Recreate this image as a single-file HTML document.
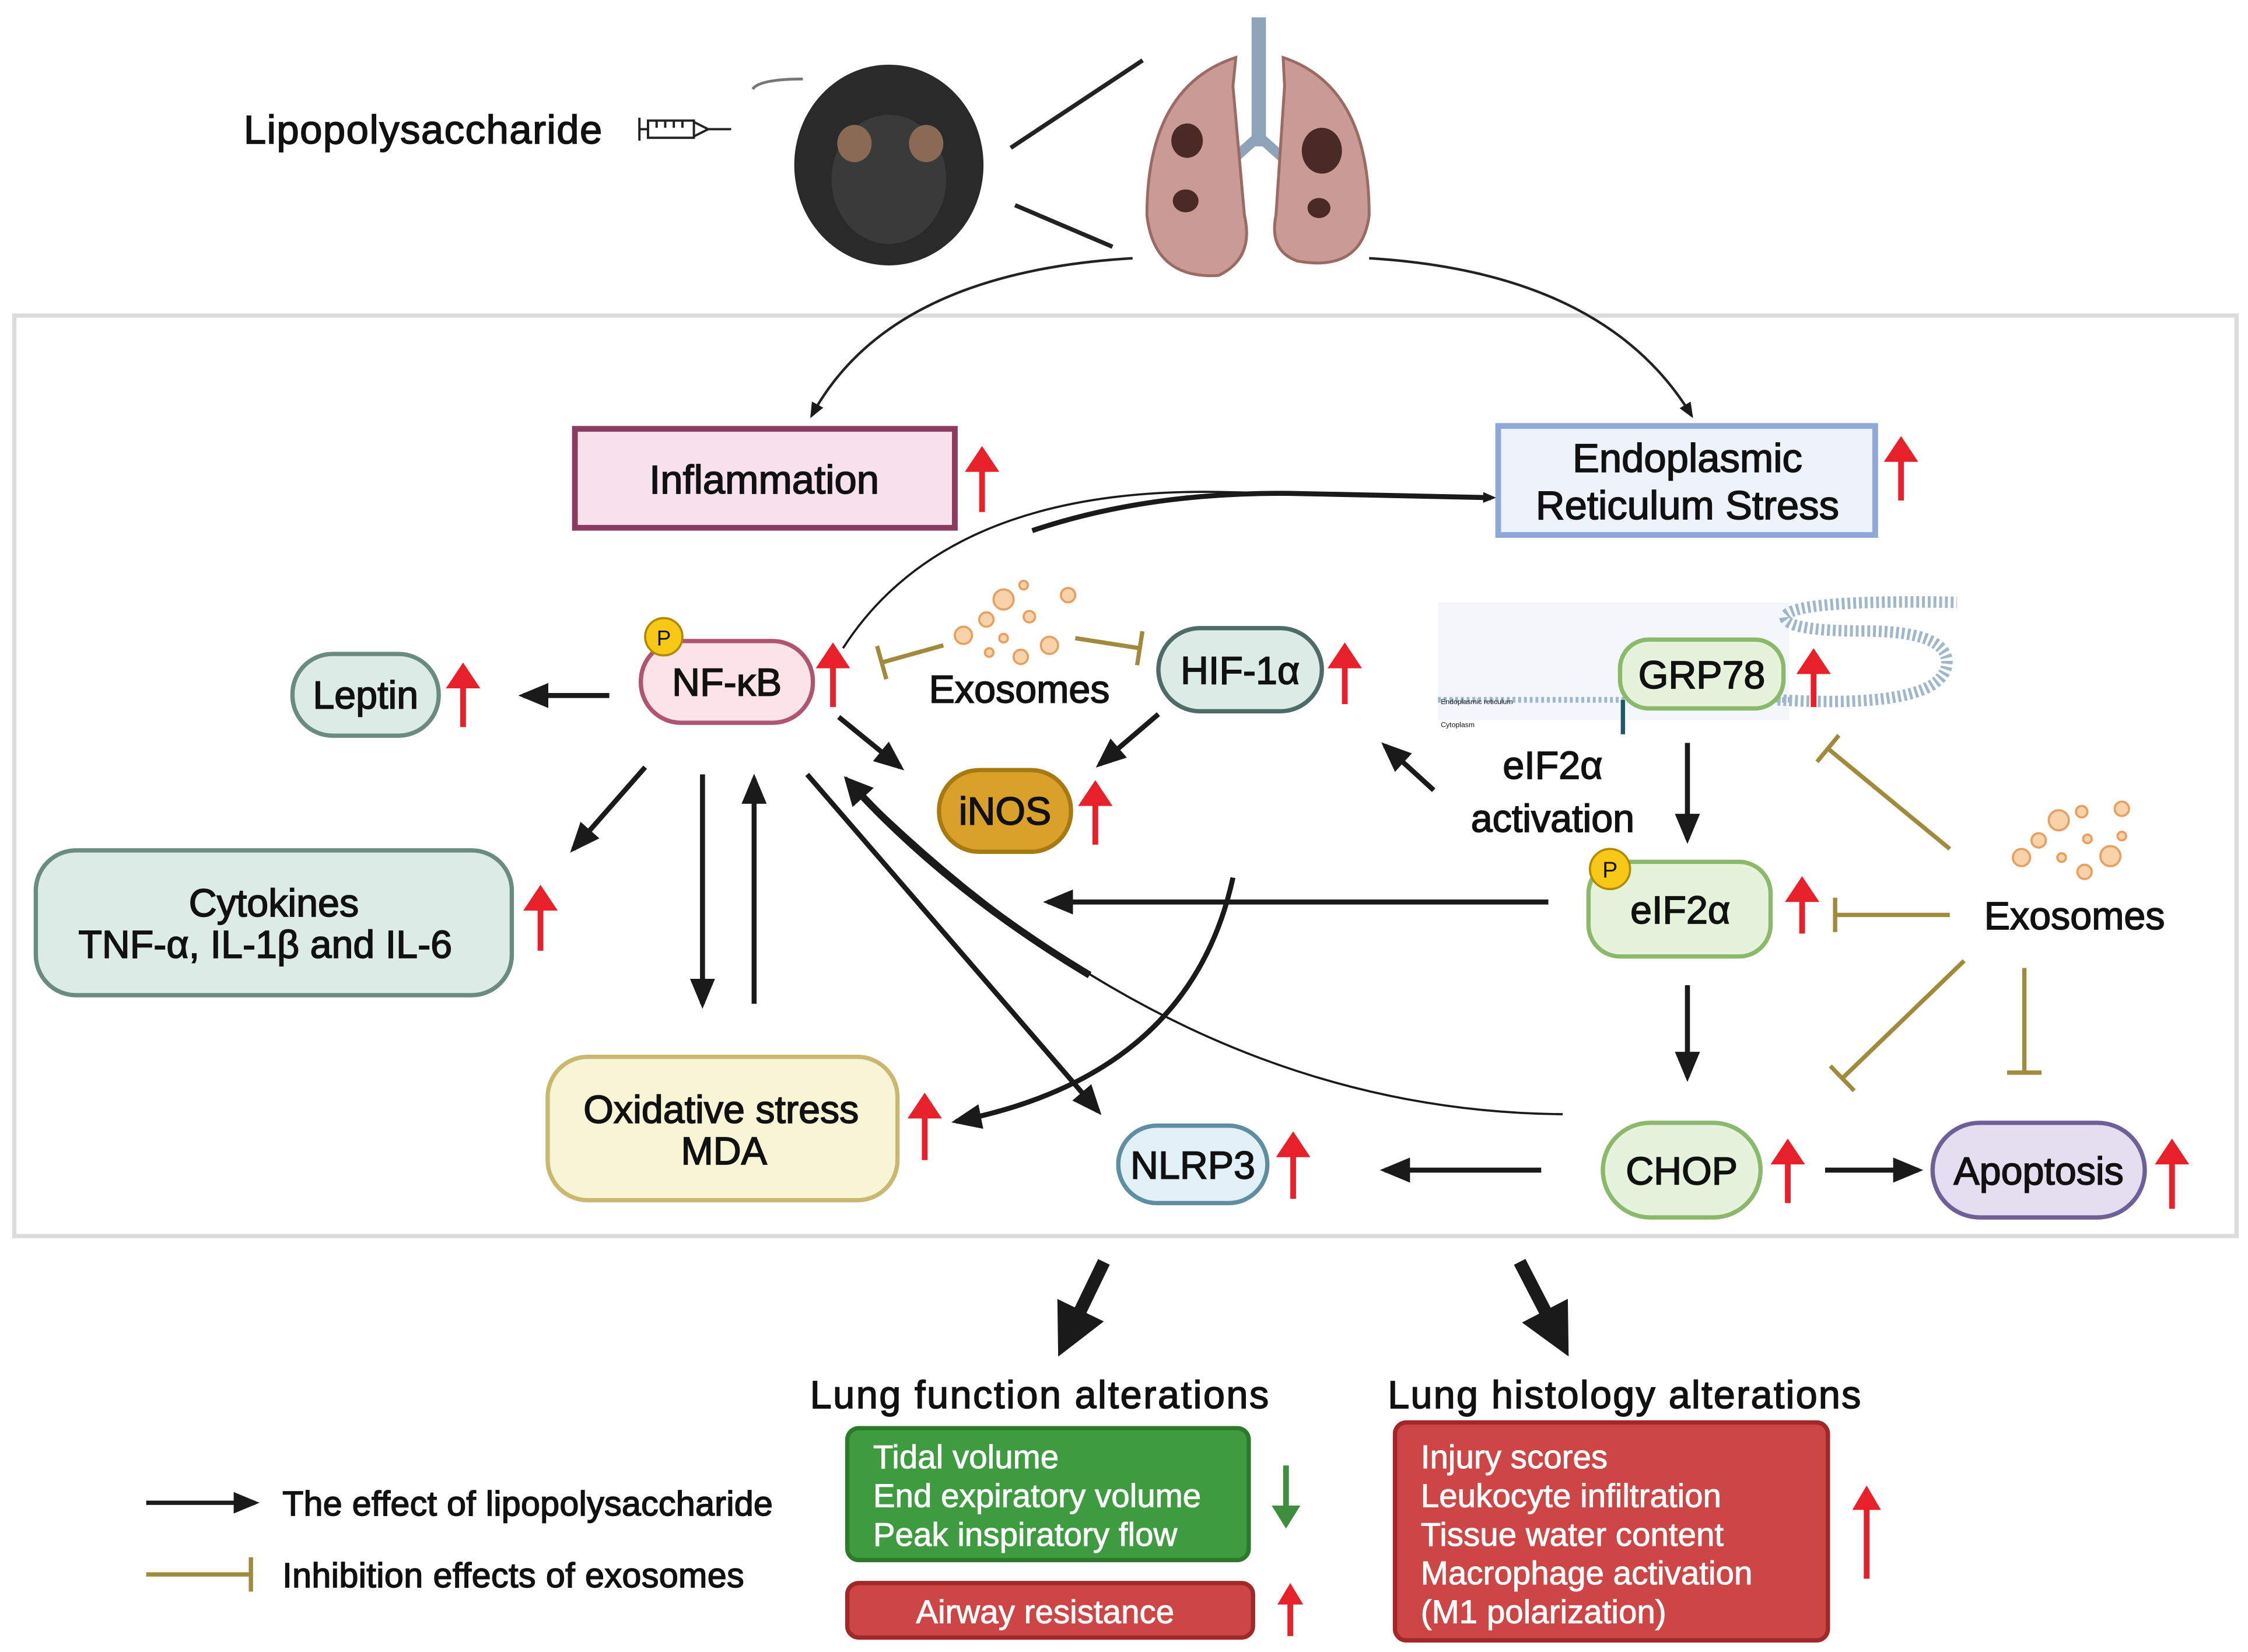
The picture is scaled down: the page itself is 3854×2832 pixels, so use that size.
<!DOCTYPE html>
<html><head><meta charset="utf-8"><style>
html,body{margin:0;padding:0;background:#fff}
svg{display:block}
text{font-family:"Liberation Sans","DejaVu Sans",sans-serif;fill:#111}
.m{stroke:#111;stroke-width:0.7}
.w{fill:#fff;stroke:#fff;stroke-width:0.4}
</style></head><body>
<svg width="3854" height="2832" viewBox="0 0 1568 1152" xmlns="http://www.w3.org/2000/svg">
<defs>
<marker id="a" markerWidth="6" markerHeight="6" refX="5" refY="3" orient="auto" markerUnits="strokeWidth"><path d="M0,0.5 L6,3 L0,5.5 Z" fill="#1a1a1a"/></marker>
<marker id="a2" markerWidth="4" markerHeight="4" refX="3" refY="2" orient="auto" markerUnits="strokeWidth"><path d="M0,0 L4,2 L0,4 Z" fill="#1a1a1a"/></marker>
<marker id="t" markerWidth="1" markerHeight="8" refX="0.5" refY="4" orient="auto" markerUnits="strokeWidth"><rect x="0" y="0" width="1" height="8" fill="#a08a3c"/></marker>
</defs>
<rect x="10" y="220" width="1550" height="642" fill="none" stroke="#dcdcdc" stroke-width="3"/>

<text x="170" y="100" font-size="28" class="m" textLength="250">Lipopolysaccharide</text>
<g stroke="#222" stroke-width="1.6" fill="none">
<rect x="452" y="84" width="32" height="12"/><path d="M446,82 v16 M446,90 h6 M484,85 l10,5 l-10,5 M494,90 h16 M458,84 v5 M464,84 v5 M470,84 v5 M476,84 v5"/>
</g>
<ellipse cx="620" cy="115" rx="66" ry="70" fill="#2a2a2a"/>
<ellipse cx="620" cy="125" rx="40" ry="45" fill="#3a3a3a"/>
<ellipse cx="596" cy="100" rx="12" ry="13" fill="#8a6a55"/>
<ellipse cx="646" cy="100" rx="12" ry="13" fill="#8a6a55"/>
<path d="M560,55 Q530,55 525,62" stroke="#777" stroke-width="2" fill="none"/>
<line x1="705" y1="103" x2="797" y2="42" stroke="#222" stroke-width="3"/>
<line x1="708" y1="143" x2="776" y2="172" stroke="#222" stroke-width="3"/>
<rect x="873" y="12" width="10" height="90" fill="#8fa3b8"/>
<path d="M878,95 L850,120 M878,95 L906,120" stroke="#8fa3b8" stroke-width="7" fill="none"/>
<path d="M862,40 Q800,60 800,150 Q805,195 850,192 Q875,180 868,150 L860,60 Z" fill="#c99b94" stroke="#9a6b64" stroke-width="2"/>
<path d="M895,40 Q955,60 955,150 Q950,190 905,182 Q885,175 890,150 L896,60 Z" fill="#c99b94" stroke="#9a6b64" stroke-width="2"/>
<ellipse cx="828" cy="98" rx="11" ry="12" fill="#4a2a24"/>
<ellipse cx="827" cy="140" rx="9" ry="8" fill="#4a2a24"/>
<ellipse cx="922" cy="105" rx="14" ry="16" fill="#4a2a24"/>
<ellipse cx="920" cy="145" rx="8" ry="7" fill="#4a2a24"/>

<path d="M790,180 Q620,190 566,290" stroke="#222" stroke-width="1.8" fill="none" marker-end="url(#a)"/>
<path d="M955,180 Q1120,190 1180,290" stroke="#222" stroke-width="1.8" fill="none" marker-end="url(#a)"/>

<rect x="401" y="299" width="265" height="69" fill="#f7e1ea" stroke="#8b3a62" stroke-width="4"/>
<text x="533" y="344" font-size="28" class="m" text-anchor="middle">Inflammation</text>
<rect x="1045" y="297" width="263" height="76" fill="#eef3fb" stroke="#8ea9d8" stroke-width="4"/>
<text x="1177" y="329" font-size="28" class="m" text-anchor="middle">Endoplasmic</text>
<text x="1177" y="362" font-size="28" class="m" text-anchor="middle">Reticulum Stress</text>

<rect x="1003" y="420" width="245" height="82" fill="#f3f7fb"/>
<line x1="1003" y1="488" x2="1250" y2="488" stroke="#9fb6cc" stroke-width="4" stroke-dasharray="2 2"/>
<path d="M1240,488 Q1360,495 1358,460 Q1355,440 1300,440 Q1245,440 1245,430 Q1250,418 1365,420" stroke="#9fb6cc" stroke-width="8" fill="none" stroke-dasharray="2 2"/>
<line x1="1132" y1="488" x2="1132" y2="512" stroke="#1f5a6a" stroke-width="3"/>
<text x="1005" y="491" font-size="5" fill="#555">Endoplasmic reticulum</text>
<text x="1005" y="507" font-size="5" fill="#555">Cytoplasm</text>

<g font-size="27" text-anchor="middle" class="m">
<rect x="447" y="447" width="120" height="57" rx="28" fill="#fbe3e8" stroke="#b05570" stroke-width="3"/>
<text x="507" y="485">NF-κB</text>
<rect x="204" y="456" width="102" height="57" rx="28" fill="#dcebe6" stroke="#6b8a80" stroke-width="3"/>
<text x="255" y="494">Leptin</text>
<rect x="25" y="593" width="332" height="101" rx="28" fill="#dcebe6" stroke="#6b8a80" stroke-width="3"/>
<text x="191" y="639">Cytokines</text>
<text x="185" y="668">TNF-α, IL-1β and IL-6</text>
<rect x="382" y="737" width="244" height="100" rx="28" fill="#f8f5d6" stroke="#c9b870" stroke-width="3"/>
<text x="503" y="783">Oxidative stress</text>
<text x="505" y="812">MDA</text>
<rect x="780" y="785" width="104" height="54" rx="27" fill="#e2f1f7" stroke="#5f8ea0" stroke-width="3"/>
<text x="832" y="822">NLRP3</text>
<rect x="655" y="537" width="92" height="57" rx="28" fill="#d9a12a" stroke="#a77a10" stroke-width="3"/>
<text x="701" y="575">iNOS</text>
<rect x="808" y="438" width="114" height="58" rx="29" fill="#dcebe6" stroke="#4e6b66" stroke-width="3"/>
<text x="865" y="477">HIF-1α</text>
<rect x="1130" y="446" width="114" height="48" rx="20" fill="#e6f3dc" stroke="#8bb86a" stroke-width="3"/>
<text x="1187" y="480">GRP78</text>
<rect x="1108" y="601" width="127" height="66" rx="22" fill="#e6f3dc" stroke="#8bb86a" stroke-width="3"/>
<text x="1172" y="644">eIF2α</text>
<rect x="1118" y="783" width="110" height="66" rx="33" fill="#e6f3dc" stroke="#8bb86a" stroke-width="3"/>
<text x="1173" y="826">CHOP</text>
<rect x="1348" y="783" width="148" height="66" rx="33" fill="#e3def0" stroke="#6e5f99" stroke-width="3"/>
<text x="1422" y="826">Apoptosis</text>
<text x="711" y="490">Exosomes</text>
<text x="1447" y="648">Exosomes</text>
<text x="1083" y="543">eIF2α</text>
<text x="1083" y="580">activation</text>
</g>
<circle cx="463" cy="444" r="13" fill="#f7c816" stroke="#b08a00" stroke-width="1.5"/>
<text x="463" y="450" font-size="15" text-anchor="middle">P</text>
<circle cx="1123" cy="606" r="14" fill="#f7c816" stroke="#b08a00" stroke-width="1.5"/>
<text x="1123" y="612" font-size="16" text-anchor="middle">P</text>

<g fill="#f8d2a8" stroke="#e8a060" stroke-width="1.5">
<circle cx="700" cy="418" r="7"/><circle cx="688" cy="432" r="5"/><circle cx="672" cy="443" r="6"/><circle cx="714" cy="408" r="3"/><circle cx="745" cy="415" r="5"/><circle cx="718" cy="430" r="4"/><circle cx="732" cy="450" r="6"/><circle cx="712" cy="458" r="5"/><circle cx="700" cy="445" r="3"/><circle cx="690" cy="455" r="3"/>
<circle cx="1436" cy="572" r="7"/><circle cx="1422" cy="586" r="5"/><circle cx="1410" cy="598" r="6"/><circle cx="1452" cy="566" r="4"/><circle cx="1480" cy="564" r="5"/><circle cx="1456" cy="585" r="3"/><circle cx="1472" cy="597" r="7"/><circle cx="1454" cy="608" r="5"/><circle cx="1438" cy="598" r="3"/><circle cx="1480" cy="583" r="3"/>
</g>

<g stroke="#1a1a1a" stroke-width="3.5" fill="none" marker-end="url(#a)">
<line x1="425" y1="485" x2="365" y2="485"/>
<line x1="450" y1="535" x2="400" y2="592"/>
<line x1="490" y1="540" x2="490" y2="700"/>
<line x1="526" y1="700" x2="526" y2="543"/>
<line x1="585" y1="500" x2="628" y2="535"/>
<line x1="808" y1="498" x2="767" y2="533"/>
<line x1="563" y1="540" x2="766" y2="775"/>
<path d="M860,612 Q830,750 667,782"/>
<line x1="1080" y1="629" x2="731" y2="629"/>
<line x1="1000" y1="551" x2="966" y2="520"/>
<line x1="1177" y1="518" x2="1177" y2="585"/>
<line x1="1177" y1="687" x2="1177" y2="751"/>
<line x1="1075" y1="816" x2="966" y2="816"/>
<line x1="1273" y1="816" x2="1338" y2="816"/>
</g>
<path d="M588,452 Q660,340 850,343 L1042,347" stroke="#1a1a1a" stroke-width="1.5" fill="none" marker-end="url(#a)"/>
<path d="M720,370 Q800,343 900,344 L1040,347" stroke="#1a1a1a" stroke-width="3.5" fill="none"/>
<path d="M1090,777 Q820,775 590,542" stroke="#1a1a1a" stroke-width="1.5" fill="none"/>
<path d="M760,680 Q660,620 592,545" stroke="#1a1a1a" stroke-width="5" fill="none" marker-end="url(#a2)"/>
<g stroke="#1a1a1a" stroke-width="9" fill="none" marker-end="url(#a2)">
<line x1="770" y1="880" x2="742" y2="938"/>
<line x1="1060" y1="880" x2="1090" y2="938"/>
</g>

<g stroke="#a08a3c" stroke-width="3" fill="none" marker-end="url(#t)">
<line x1="658" y1="450" x2="615" y2="462"/>
<line x1="750" y1="445" x2="795" y2="452"/>
<line x1="1360" y1="592" x2="1275" y2="522"/>
<line x1="1360" y1="638" x2="1280" y2="638"/>
<line x1="1370" y1="670" x2="1285" y2="752"/>
<line x1="1412" y1="675" x2="1412" y2="748"/>
</g>

<g fill="#e8202a" stroke="#e8202a">
<g stroke-width="4">
<line x1="685" y1="325" x2="685" y2="357"/><line x1="1326" y1="318" x2="1326" y2="349"/>
<line x1="581" y1="462" x2="581" y2="493"/><line x1="323" y1="476" x2="323" y2="507"/>
<line x1="377" y1="631" x2="377" y2="663"/><line x1="938" y1="462" x2="938" y2="491"/>
<line x1="764" y1="558" x2="764" y2="589"/><line x1="1265" y1="466" x2="1265" y2="493"/>
<line x1="1257" y1="624" x2="1257" y2="651"/><line x1="645" y1="776" x2="645" y2="809"/>
<line x1="902" y1="803" x2="902" y2="836"/><line x1="1247" y1="808" x2="1247" y2="839"/>
<line x1="1515" y1="808" x2="1515" y2="843"/><line x1="900" y1="1116" x2="900" y2="1141"/>
<line x1="1302" y1="1050" x2="1302" y2="1101"/>
</g>
<g stroke="none">
<path d="M685,311 l-12,18 h24 z"/><path d="M1326,304 l-12,18 h24 z"/>
<path d="M581,448 l-12,18 h24 z"/><path d="M323,462 l-12,18 h24 z"/>
<path d="M377,617 l-12,18 h24 z"/><path d="M938,448 l-12,18 h24 z"/>
<path d="M764,544 l-12,18 h24 z"/><path d="M1265,452 l-12,18 h24 z"/>
<path d="M1257,611 l-12,18 h24 z"/><path d="M645,762 l-12,18 h24 z"/>
<path d="M902,789 l-12,18 h24 z"/><path d="M1247,794 l-12,18 h24 z"/>
<path d="M1515,794 l-12,18 h24 z"/><path d="M900,1104 l-9,15 h18 z"/>
<path d="M1302,1036 l-10,17 h20 z"/>
</g>
</g>
<line x1="897" y1="1022" x2="897" y2="1052" stroke="#3e8e3e" stroke-width="4"/>
<path d="M897,1066 l-10,-16 h20 z" fill="#3e8e3e"/>

<text x="725" y="982" font-size="27" class="m" text-anchor="middle" textLength="320">Lung function alterations</text>
<text x="1133" y="982" font-size="27" class="m" text-anchor="middle" textLength="330">Lung histology alterations</text>
<rect x="591" y="996" width="280" height="92" rx="8" fill="#3f9b3f" stroke="#2d7a2d" stroke-width="3"/>
<g font-size="23"><text x="609" y="1024" class="w">Tidal volume</text><text x="609" y="1051" class="w">End expiratory volume</text><text x="609" y="1078" class="w">Peak inspiratory flow</text></g>
<rect x="591" y="1104" width="283" height="38" rx="8" fill="#cd4545" stroke="#a02828" stroke-width="3"/>
<text x="729" y="1132" font-size="23" class="w" text-anchor="middle">Airway resistance</text>
<rect x="973" y="992" width="302" height="152" rx="8" fill="#cd4545" stroke="#a02828" stroke-width="3"/>
<g font-size="23"><text x="991" y="1024" class="w">Injury scores</text><text x="991" y="1051" class="w">Leukocyte infiltration</text><text x="991" y="1078" class="w">Tissue water content</text><text x="991" y="1105" class="w">Macrophage activation</text><text x="991" y="1132" class="w">(M1 polarization)</text></g>

<line x1="102" y1="1048" x2="178" y2="1048" stroke="#1a1a1a" stroke-width="3" marker-end="url(#a)"/>
<text x="197" y="1057" font-size="24" class="m" textLength="342">The effect of lipopolysaccharide</text>
<line x1="102" y1="1098" x2="175" y2="1098" stroke="#a08a3c" stroke-width="3" marker-end="url(#t)"/>
<text x="197" y="1107" font-size="24" class="m" textLength="322">Inhibition effects of exosomes</text>
</svg>
</body></html>
